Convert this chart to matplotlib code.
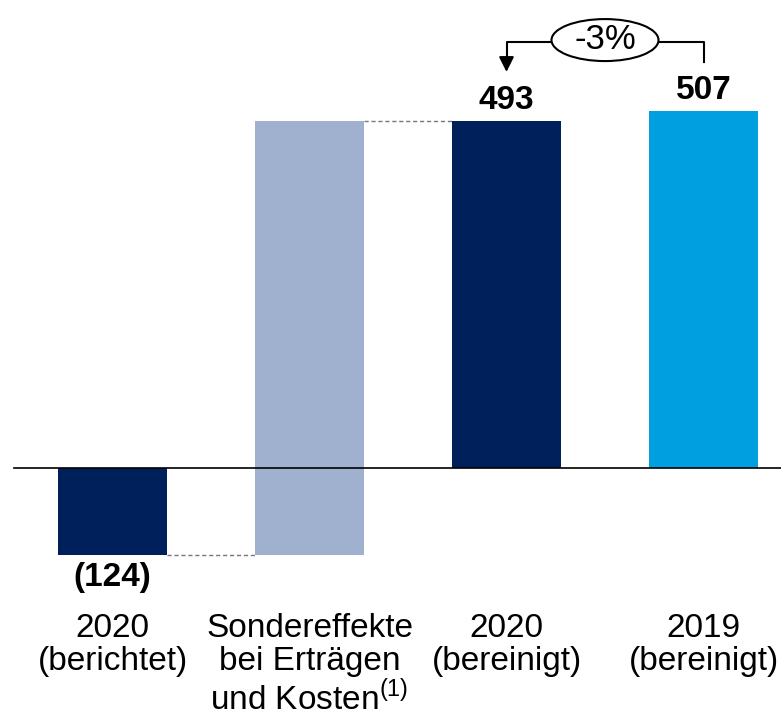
import matplotlib
matplotlib.use("Agg")
import matplotlib.pyplot as plt
from matplotlib.patches import Ellipse

plt.rcParams['font.family'] = ['Liberation Sans', 'DejaVu Sans']
plt.rcParams['mathtext.fontset'] = 'custom'
plt.rcParams['mathtext.rm'] = 'Liberation Sans'

# data
categories = ["2020\n(berichtet)", "Sondereffekte\nbei Erträgen\nund Kosten$^{(1)}$",
              "2020\n(bereinigt)", "2019\n(bereinigt)"]
reported_2020 = -124
special_effects = 617
adjusted_2020 = 493
adjusted_2019 = 507
value_labels = ["(124)", "", "493", "507"]
change_label = "-3%"

navy = "#00205B"
grey_blue = "#9FB1CF"
light_blue = "#009FDF"

fig = plt.figure(figsize=(7.81, 7.18), dpi=100)
ax = fig.add_axes([0, 0, 1, 1])

# pixel geometry -> data: bar spacing 197 px, 0.704 px per unit
px_x = 197.0
px_y = 0.704
ax.set_xlim(-112.5 / px_x, (781 - 112.5) / px_x)
ax.set_ylim(-(718 - 468) / px_y, 468 / px_y)
ax.axis("off")

w = 0.555
bottoms = [0, reported_2020, 0, 0]
heights = [reported_2020, special_effects, adjusted_2020, adjusted_2019]
colors = [navy, grey_blue, navy, light_blue]
xs = range(len(categories))
ax.bar(xs, heights, bottom=bottoms, width=w, color=colors, zorder=2)

# zero line
ax.plot([-0.5, 3.5], [0, 0], color="black", lw=1.2, zorder=3)

# dashed connectors
ax.plot([0 + w / 2, 1 - w / 2], [reported_2020, reported_2020],
        color="#777777", lw=1, ls=(0, (3, 2)), zorder=1)
top_special = reported_2020 + special_effects
ax.plot([1 + w / 2, 2 - w / 2], [top_special, top_special],
        color="#777777", lw=1, ls=(0, (3, 2)), zorder=1)

# value labels
ax.annotate(value_labels[0], (0, reported_2020), xytext=(0, -16),
            textcoords="offset points", ha="center", va="center",
            fontsize=24, fontweight="bold")
ax.annotate(value_labels[2], (2, adjusted_2020), xytext=(0, 15),
            textcoords="offset points", ha="center", va="center",
            fontsize=24, fontweight="bold")
ax.annotate(value_labels[3], (3, adjusted_2019), xytext=(0, 15),
            textcoords="offset points", ha="center", va="center",
            fontsize=24, fontweight="bold")

# category labels
for x, lab in zip(xs, categories):
    ax.text(x, -145 / px_y, lab, ha="center", va="top", fontsize=24,
            linespacing=1.1)

# change bracket
y_line = adjusted_2019 + 69 / px_y
x_left = 2
x_right = 3
ax.plot([x_left + 0.5 - 0.27, x_right, x_right],
        [y_line, y_line, adjusted_2019 + 49 / px_y], color="black", lw=1.5)
ax.plot([x_left, x_left, x_left + 0.5 - 0.27],
        [adjusted_2020 + 60 / px_y, y_line, y_line], color="black", lw=1.5)
ax.annotate("", xy=(x_left, adjusted_2020 + 49 / px_y),
            xytext=(x_left, adjusted_2020 + 64 / px_y),
            arrowprops=dict(arrowstyle="-|>,head_length=0.9,head_width=0.45",
                            color="black", lw=1.5, shrinkA=0, shrinkB=0))
xc = (x_left + x_right) / 2
ell = Ellipse((xc, y_line + 2 / px_y), width=107 / px_x, height=42 / px_y,
              facecolor="white", edgecolor="black", lw=1.5, zorder=4)
ax.add_patch(ell)
ax.text(xc, y_line + 3 / px_y, change_label, ha="center", va="center",
        fontsize=25, zorder=5)

fig.savefig("out.png", dpi=100)
